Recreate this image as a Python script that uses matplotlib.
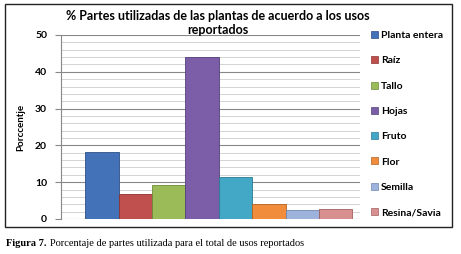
import matplotlib.pyplot as plt
import matplotlib.patches as mpatches
import numpy as np

# Data
partes = ['Planta entera', 'Raíz', 'Tallo', 'Hojas', 'Fruto', 'Flor', 'Semilla', 'Resina/Savia']
porcentaje = [18.3, 6.8, 9.3, 44.1, 11.3, 4.1, 2.4, 2.8]
colores = ['#4472B8', '#C0504D', '#9BBB59', '#7B5EA7', '#43A8C6', '#F08C3C', '#9DB3DC', '#D7908F']
bordes = ['#2C4F85', '#8C3330', '#6E8A3A', '#53407A', '#2A7A92', '#B2621F', '#6F86AF', '#A0615F']

plt.rcParams['font.family'] = ['Lato', 'DejaVu Sans']

fig = plt.figure(figsize=(4.61, 2.54), dpi=100)
W, H = 461, 254

# outer chart frame
fig.patches.append(mpatches.Rectangle((5 / W, 1 - 227 / H), 447 / W, 223 / H,
                                      transform=fig.transFigure, fill=False,
                                      edgecolor='#222222', linewidth=1.0))

ax = fig.add_axes([61 / W, 1 - 219 / H, 299 / W, 184 / H])
x = np.arange(len(partes))
ax.bar(x, porcentaje, width=1.0, color=colores, edgecolor=bordes, linewidth=0.6, zorder=3)

ax.set_xlim(-1.23, 7.73)
ax.set_ylim(0, 50)
ax.set_yticks(range(0, 51, 10))
ax.set_yticks(range(0, 51, 2), minor=True)
ax.grid(axis='y', which='major', color='#888888', linewidth=0.8, zorder=0)
ax.grid(axis='y', which='minor', color='#cccccc', linewidth=0.6, zorder=0)
ax.set_xticks([])
for s in ['top', 'right', 'bottom']:
    ax.spines[s].set_visible(False)
ax.spines['left'].set_color('#888888')
ax.tick_params(axis='y', which='major', length=4, color='#888888', labelsize=7.5, pad=6)
ax.tick_params(axis='y', which='minor', length=0)
for t in ax.get_yticklabels():
    t.set_fontweight('bold')
ax.set_ylabel('Porccentje', fontsize=7, fontweight='bold', labelpad=7)

fig.text(218 / W, 1 - 22.5 / H, '% Partes utilizadas de las plantas de acuerdo a los usos\nreportados',
         ha='center', va='center', fontsize=9, fontweight='bold', linespacing=1.2)

handles = [mpatches.Patch(facecolor=c, edgecolor=b, linewidth=0.5) for c, b in zip(colores, bordes)]
leg = fig.legend(handles, partes, loc='upper left', bbox_to_anchor=(371 / W, 1 - 31 / H),
                 frameon=False, fontsize=7.5, handlelength=0.65, handleheight=0.65,
                 handletextpad=0.3, labelspacing=1.55, borderpad=0, borderaxespad=0)
for t in leg.get_texts():
    t.set_fontweight('bold')

# caption
cap = fig.text(6 / W, 1 - 246 / H, 'Figura 7.', family='Liberation Serif', fontweight='bold',
               fontsize=7.5, va='baseline')
ax.annotate('Porcentaje de partes utilizada para el total de usos reportados',
            xy=(1, 0), xycoords=cap, xytext=(2.5, 0), textcoords='offset points',
            family='Liberation Serif', fontsize=7.5, va='bottom', annotation_clip=False)

fig.savefig('out.png', dpi=100)
